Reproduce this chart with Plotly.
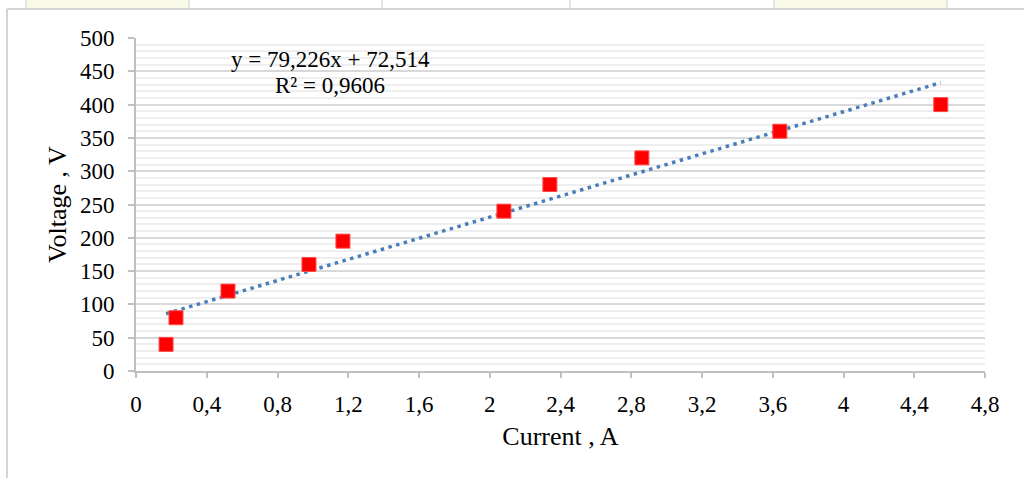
import plotly.graph_objects as go

current_a = [0.17, 0.226, 0.52, 0.978, 1.17, 2.08, 2.34, 2.86, 3.64, 4.55]
voltage_v = [40, 80, 120, 160, 195, 240, 280, 320, 360, 400]
slope = 79.226
intercept = 72.514
r_squared = "0,9606"

x_ticks = [0, 0.4, 0.8, 1.2, 1.6, 2, 2.4, 2.8, 3.2, 3.6, 4, 4.4, 4.8]
x_tick_text = ["0", "0,4", "0,8", "1,2", "1,6", "2", "2,4", "2,8", "3,2", "3,6", "4", "4,4", "4,8"]

font_family = "Liberation Serif, Times New Roman, serif"

trend_x = [min(current_a), max(current_a)]
trend_y = [slope * v + intercept for v in trend_x]

fig = go.Figure()
fig.add_trace(go.Scatter(
    x=trend_x, y=trend_y, mode="lines",
    line=dict(color="#4a7ebb", width=3.5, dash="3.5px,4.5px"),
    showlegend=False, hoverinfo="skip"))
fig.add_trace(go.Scatter(
    x=current_a, y=voltage_v, mode="markers",
    marker=dict(symbol="square", size=14, color="#ff0000",
                line=dict(color="#ff4a4a", width=1)),
    showlegend=False))

eq_text = f"y = {str(slope).replace('.', ',')}x + {str(intercept).replace('.', ',')}"
fig.add_annotation(x=1.097, y=467, xref="x", yref="y", text=eq_text,
                   showarrow=False, font=dict(family=font_family, size=23, color="#000000"))
fig.add_annotation(x=1.097, y=428, xref="x", yref="y", text=f"R² = {r_squared}",
                   showarrow=False, font=dict(family=font_family, size=23, color="#000000"))

# page background fragments above the frame
fig.add_shape(type="rect", xref="paper", yref="paper",
              x0=(26 - 136) / 849, x1=(189 - 136) / 849, y0=1.087, y1=1.12,
              fillcolor="#fafaea", line=dict(width=0), layer="below")
fig.add_shape(type="rect", xref="paper", yref="paper",
              x0=(774 - 136) / 849, x1=(947 - 136) / 849, y0=1.087, y1=1.12,
              fillcolor="#fafaea", line=dict(width=0), layer="below")
for px in [26, 189, 382, 570, 774, 947]:
    fig.add_shape(type="line", xref="paper", yref="paper",
                  x0=(px - 136) / 849, x1=(px - 136) / 849, y0=1.087, y1=1.12,
                  line=dict(color="#dcdcdc", width=1.5), layer="below")
# page frame
fig.add_shape(type="line", xref="paper", yref="paper",
              x0=(7 - 136) / 849, x1=(7 - 136) / 849, y0=-0.4, y1=1.087,
              line=dict(color="#d4d4d4", width=2), layer="below")
fig.add_shape(type="line", xref="paper", yref="paper",
              x0=(7 - 136) / 849, x1=1.1, y0=1.087, y1=1.087,
              line=dict(color="#d4d4d4", width=2), layer="below")

fig.update_layout(
    width=1024, height=478,
    margin=dict(l=136, r=39, t=38, b=107),
    paper_bgcolor="white", plot_bgcolor="white",
    separators=", ",
    font=dict(family=font_family, size=23, color="#000000"),
    xaxis=dict(
        range=[0, 4.8], tickmode="array", tickvals=x_ticks, ticktext=x_tick_text,
        showgrid=False, zeroline=False,
        showline=True, linecolor="#bfbfbf", linewidth=2,
        ticks="outside", ticklen=5, tickcolor="#bfbfbf", tickwidth=2,
        ticklabelstandoff=6,
        tickfont=dict(family=font_family, size=23),
        title=dict(text="Current , A", font=dict(family=font_family, size=26), standoff=11),
    ),
    yaxis=dict(
        range=[0, 500], dtick=50, tick0=0,
        showgrid=True, gridcolor="#d9d9d9", gridwidth=2,
        minor=dict(dtick=10, showgrid=True, gridcolor="#eeeeee", gridwidth=2),
        zeroline=False,
        showline=True, linecolor="#bfbfbf", linewidth=2,
        ticks="outside", ticklen=6, tickcolor="#bfbfbf", tickwidth=2,
        ticklabelstandoff=9,
        tickfont=dict(family=font_family, size=23),
        title=dict(text="Voltage , V", font=dict(family=font_family, size=26), standoff=6),
    ),
)

fig.write_html("out.html")
